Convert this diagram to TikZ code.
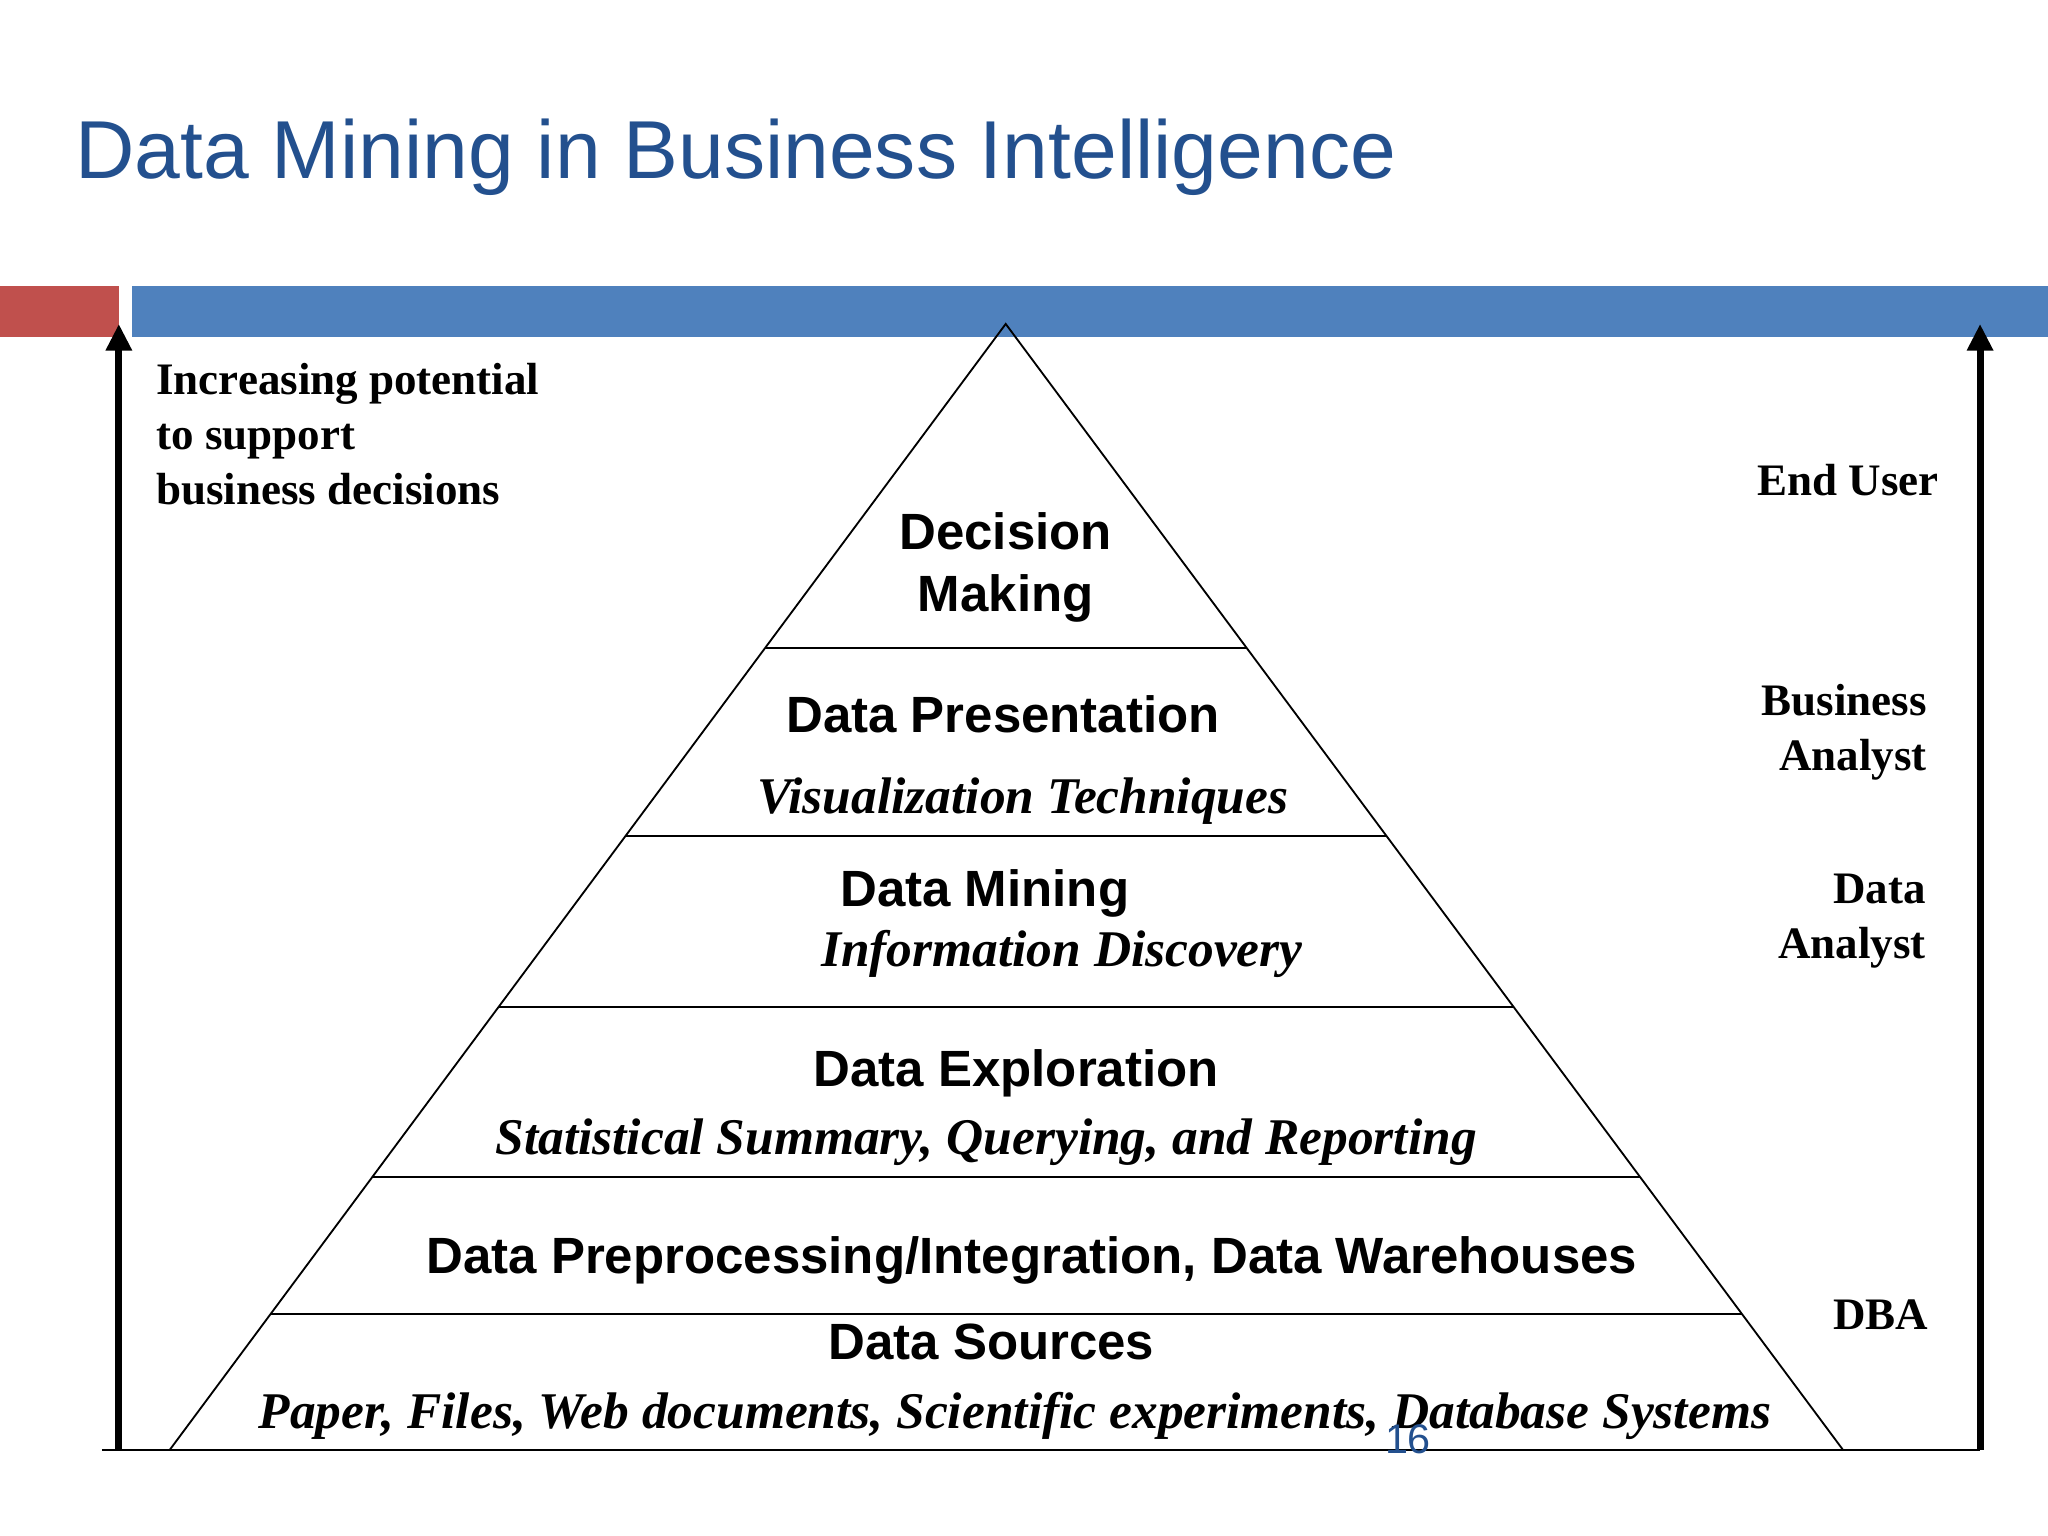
\documentclass[tikz,border=0pt]{standalone}
\usepackage{fontspec}
\setmainfont{Liberation Serif}
\setsansfont{Liberation Sans}
\usetikzlibrary{arrows.meta,calc}
\definecolor{titleblue}{RGB}{35,80,142}
\definecolor{barred}{RGB}{192,80,77}
\definecolor{barblue}{RGB}{79,129,189}
\begin{document}
\begin{tikzpicture}[x=0.01cm,y=-0.01cm,
  hdr/.style={font=\sffamily\bfseries\fontsize{11.1}{13.3}\selectfont, anchor=base, inner sep=0},
  sub/.style={font=\rmfamily\bfseries\itshape\fontsize{11.2}{13.3}\selectfont, anchor=base, inner sep=0},
  role/.style={font=\rmfamily\bfseries\fontsize{9.8}{12}\selectfont, inner sep=0},
  levelline/.style={line width=0.4pt},
  bigarrow/.style={line width=1.5pt, -{Triangle[width=5.4pt,length=5.8pt]}}]
\useasboundingbox[fill=white] (0,0) rectangle (1568,1176);
% title
\node[anchor=base west, inner sep=0, text=titleblue, font=\sffamily\fontsize{17.9}{21}\selectfont] (title) at (57,137) {Data Mining in Business Intelligence};
% header bars
\fill[barred] (0,219) rectangle (91,258);
\fill[barblue] (101,219) rectangle (1568,258);
% pyramid
\coordinate (apex) at (770,248);
\coordinate (bl) at (130,1110);
\coordinate (br) at (1411,1110);
\draw[levelline, line join=miter] (bl) -- (apex) -- (br);
\foreach \t in {0.2877,0.4548,0.6067,0.7575,0.8794}{
  \draw[levelline] ($(apex)!\t!(bl)$) -- ($(apex)!\t!(br)$);
}
% base line
\coordinate (b0) at (78,1110);
\coordinate (b1) at (1516,1110);
\draw[line width=0.5pt] (b0) -- (b1);
% arrows
\coordinate (la0) at (91,1110);
\coordinate (la1) at (91,248);
\coordinate (ra0) at (1516,1110);
\coordinate (ra1) at (1516,248);
\draw[bigarrow] (la0) -- (la1);
\draw[bigarrow] (ra0) -- (ra1);
% pyramid texts
\node[hdr] (dm1) at (770,421) {Decision};
\node[hdr] (dm2) at (770,468) {Making};
\node[hdr] (dp) at (768,561) {Data Presentation};
\node[sub] (vt) at (783,623) {Visualization Techniques};
\node[hdr] (dmi) at (754,694) {Data Mining};
\node[sub] (idc) at (813,740) {Information Discovery};
\node[hdr] (de) at (778,832) {Data Exploration};
\node[sub] (ss) at (755,884) {Statistical Summary, Querying, and Reporting};
\node[hdr] (dpi) at (790,975) {Data Preprocessing/Integration, Data Warehouses};
\node[hdr] (ds) at (759,1041) {Data Sources};
\node[sub] (pf) at (777,1094) {Paper, Files, Web documents, Scientific experiments, Database Systems};
% left text
\node[role, anchor=base west] (inc1) at (119,302) {Increasing potential};
\node[role, anchor=base west] (inc2) at (119,344) {to support};
\node[role, anchor=base west] (inc3) at (119,386) {business decisions};
% right roles
\node[role, anchor=base] (eu) at (1415,379) {End User};
\node[role, anchor=base east] (ba1) at (1476,548) {Business};
\node[role, anchor=base east] (ba2) at (1476,590) {Analyst};
\node[role, anchor=base east] (da1) at (1475,692) {Data};
\node[role, anchor=base east] (da2) at (1475,734) {Analyst};
\node[role, anchor=base east] (dba) at (1477,1018) {DBA};
% page number
\node[anchor=base, inner sep=0, text=titleblue, font=\sffamily\fontsize{9}{10}\selectfont] (pg) at (1078,1113) {16};
\end{tikzpicture}
\end{document}
